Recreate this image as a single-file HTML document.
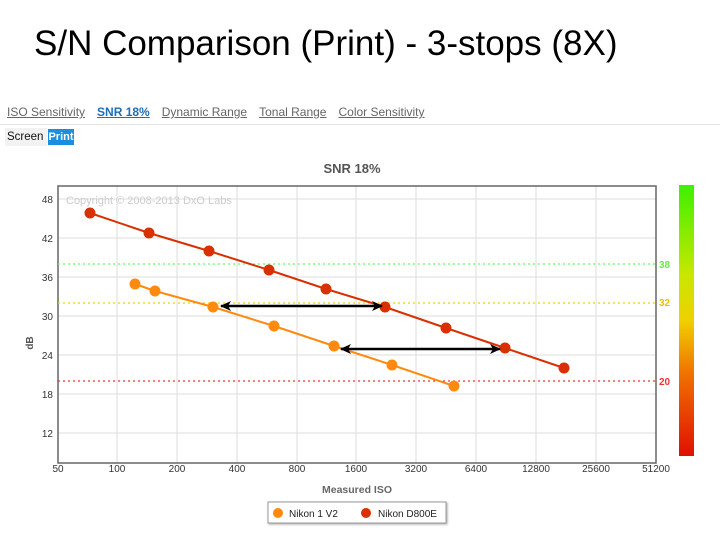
<!DOCTYPE html>
<html><head><style>
body{margin:0;width:720px;height:539px;background:#fff;font-family:"Liberation Sans",sans-serif;overflow:hidden;position:relative}
.t{position:absolute;left:34px;top:24px;font-size:35px;color:#000;white-space:nowrap}
.tabs{position:absolute;top:105px;left:7px;font-size:12px;color:#666}
.tabs span{text-decoration:underline;margin-right:12px}
.line{position:absolute;top:124px;left:0;width:720px;height:1px;background:#e4e4e4}
</style></head><body>
<div class="t">S/N Comparison (Print) - 3-stops (8X)</div>
<div class="tabs"><span>ISO Sensitivity</span><span style="color:#1c6fb8;font-weight:bold">SNR 18%</span><span>Dynamic Range</span><span>Tonal Range</span><span>Color Sensitivity</span></div>
<div class="line"></div>
<div style="position:absolute;top:128px;left:5px;width:40px;height:18px;background:#f2f2f2;font-size:11.5px;line-height:18px;color:#111;padding-left:2px">Screen</div>
<div style="position:absolute;top:129px;left:48px;width:26px;height:16px;background:#1a8ee0;color:#fff;font-size:11px;line-height:16px;font-weight:bold;text-align:center">Print</div>
<svg width="720" height="539" style="position:absolute;left:0;top:0" font-family="Liberation Sans, sans-serif">
<defs><linearGradient id="g" x1="0" y1="0" x2="0" y2="1"><stop offset="0" stop-color="#3ef000"/><stop offset="0.33" stop-color="#c8e800"/><stop offset="0.5" stop-color="#f0d000"/><stop offset="0.7" stop-color="#f07000"/><stop offset="1" stop-color="#e01000"/></linearGradient>
<marker id="a" markerWidth="12" markerHeight="10" refX="10" refY="5" orient="auto-start-reverse" markerUnits="userSpaceOnUse"><path d="M0,0 L11,5 L0,10 L3,5 Z" fill="#000"/></marker></defs>
<text x="352" y="173" font-size="13" font-weight="bold" fill="#555" text-anchor="middle">SNR 18%</text>
<g stroke="#ddd" stroke-width="1">
<line x1="117" y1="186" x2="117" y2="463"/><line x1="177" y1="186" x2="177" y2="463"/><line x1="237" y1="186" x2="237" y2="463"/><line x1="297" y1="186" x2="297" y2="463"/><line x1="356" y1="186" x2="356" y2="463"/><line x1="416" y1="186" x2="416" y2="463"/><line x1="476" y1="186" x2="476" y2="463"/><line x1="536" y1="186" x2="536" y2="463"/><line x1="596" y1="186" x2="596" y2="463"/>
<line x1="58" y1="199" x2="656" y2="199"/><line x1="58" y1="238" x2="656" y2="238"/><line x1="58" y1="277" x2="656" y2="277"/><line x1="58" y1="316" x2="656" y2="316"/><line x1="58" y1="355" x2="656" y2="355"/><line x1="58" y1="394" x2="656" y2="394"/><line x1="58" y1="433" x2="656" y2="433"/>
</g>
<rect x="58" y="186" width="598" height="277" fill="none" stroke="#666" stroke-width="1.5"/>
<text x="66" y="204" font-size="11" fill="#ccc">Copyright © 2008-2013 DxO Labs</text>
<g stroke-dasharray="2,3" stroke-width="1.3"><line x1="58" y1="264" x2="656" y2="264" stroke="#6f6"/><line x1="58" y1="303" x2="656" y2="303" stroke="#f0d000"/><line x1="58" y1="381" x2="656" y2="381" stroke="#e33"/></g>
<g font-size="10" fill="#333" text-anchor="end"><text x="53" y="203">48</text><text x="53" y="242">42</text><text x="53" y="281">36</text><text x="53" y="320">30</text><text x="53" y="359">24</text><text x="53" y="398">18</text><text x="53" y="437">12</text></g>
<text x="33" y="343" font-size="10" fill="#555" transform="rotate(-90 33 343)" text-anchor="middle" font-weight="bold">dB</text>
<g font-size="10" fill="#333" text-anchor="middle"><text x="58" y="472">50</text><text x="117" y="472">100</text><text x="177" y="472">200</text><text x="237" y="472">400</text><text x="297" y="472">800</text><text x="356" y="472">1600</text><text x="416" y="472">3200</text><text x="476" y="472">6400</text><text x="536" y="472">12800</text><text x="596" y="472">25600</text><text x="656" y="472">51200</text></g>
<text x="357" y="493" font-size="10.5" fill="#666" font-weight="bold" text-anchor="middle">Measured ISO</text>
<g font-size="10" font-weight="bold"><text x="659" y="268" fill="#6e4">38</text><text x="659" y="306" fill="#e8c000">32</text><text x="659" y="385" fill="#e33">20</text></g>
<rect x="679" y="185" width="15" height="271" fill="url(#g)"/>
<polyline points="90,213 149,233 209,251 269,270 326,289 385,307 446,328 505,348 564,368" fill="none" stroke="#d83000" stroke-width="2"/>
<g fill="#d83000"><circle cx="90" cy="213" r="5.5"/><circle cx="149" cy="233" r="5.5"/><circle cx="209" cy="251" r="5.5"/><circle cx="269" cy="270" r="5.5"/><circle cx="326" cy="289" r="5.5"/><circle cx="385" cy="307" r="5.5"/><circle cx="446" cy="328" r="5.5"/><circle cx="505" cy="348" r="5.5"/><circle cx="564" cy="368" r="5.5"/></g>
<polyline points="135,284 155,291 213,307 274,326 334,346 392,365 454,386" fill="none" stroke="#ff8a10" stroke-width="2"/>
<g fill="#ff8a10"><circle cx="135" cy="284" r="5.5"/><circle cx="155" cy="291" r="5.5"/><circle cx="213" cy="307" r="5.5"/><circle cx="274" cy="326" r="5.5"/><circle cx="334" cy="346" r="5.5"/><circle cx="392" cy="365" r="5.5"/><circle cx="454" cy="386" r="5.5"/></g>
<line x1="221" y1="306" x2="382" y2="306" stroke="#000" stroke-width="2.5" marker-start="url(#a)" marker-end="url(#a)"/>
<line x1="341" y1="349" x2="500" y2="349" stroke="#000" stroke-width="2.5" marker-start="url(#a)" marker-end="url(#a)"/>
<rect x="268" y="502" width="178" height="21" fill="#fff" stroke="#999" style="filter:drop-shadow(1px 1px 1px #aaa)"/>
<circle cx="278" cy="513" r="5" fill="#ff8a10"/><text x="289" y="517" font-size="10" fill="#222">Nikon 1 V2</text>
<circle cx="366" cy="513" r="5" fill="#d83000"/><text x="378" y="517" font-size="10" fill="#222">Nikon D800E</text>
</svg>
</body></html>
